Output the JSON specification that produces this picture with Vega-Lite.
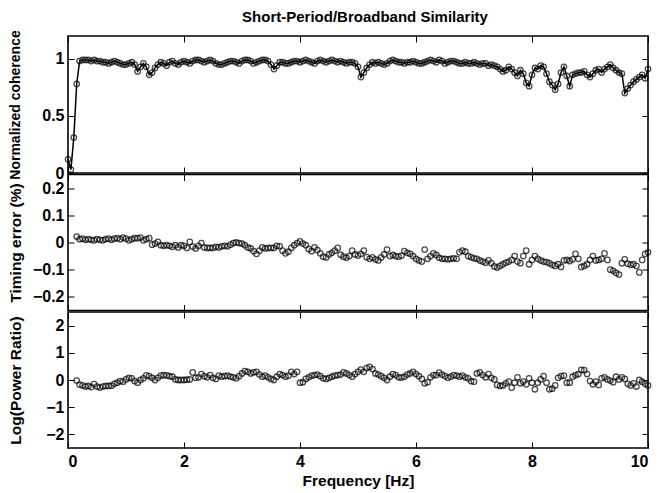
{
  "$schema": "https://vega.github.io/schema/vega-lite/v6.json",
  "padding": {"top": 10, "left": 7, "right": 5, "bottom": 2},
  "title": {"text": "Short-Period/Broadband Similarity", "font": "Liberation Sans", "fontSize": 15, "fontWeight": "bold", "color": "black", "offset": 4, "anchor": "middle", "frame": "group", "dx": 7},
  "config": {
    "font": "Liberation Sans",
    "view": {"stroke": "black", "strokeWidth": 1.6},
    "axis": {"labelFont": "Liberation Sans", "labelFontSize": 16, "labelFontWeight": "bold", "labelColor": "black", "titleFont": "Liberation Sans", "titleFontSize": 15.5, "titleFontWeight": "bold", "titleColor": "black", "domain": false, "grid": false, "tickColor": "black", "tickSize": -6, "tickWidth": 1, "labelPadding": 10}
  },
  "bounds": "flush",
  "spacing": 1.5,
  "datasets": {
    "coh": [
      {"f":0.00,"v":0.12},{"f":0.05,"v":0.03},{"f":0.10,"v":0.31},{"f":0.15,"v":0.78},{"f":0.20,"v":0.98},{"f":0.25,"v":0.99},{"f":0.30,"v":0.99},{"f":0.35,"v":0.99},{"f":0.40,"v":0.98},{"f":0.45,"v":0.99},
      {"f":0.50,"v":0.98},{"f":0.55,"v":0.98},{"f":0.60,"v":0.97},{"f":0.65,"v":0.97},{"f":0.70,"v":0.96},{"f":0.75,"v":0.97},{"f":0.80,"v":0.98},{"f":0.85,"v":0.97},{"f":0.90,"v":0.96},{"f":0.95,"v":0.95},
      {"f":1.00,"v":0.95},{"f":1.05,"v":0.96},{"f":1.10,"v":0.97},{"f":1.15,"v":0.95},{"f":1.20,"v":0.89},{"f":1.25,"v":0.93},{"f":1.30,"v":0.96},{"f":1.35,"v":0.93},{"f":1.40,"v":0.86},{"f":1.45,"v":0.88},
      {"f":1.50,"v":0.92},{"f":1.55,"v":0.95},{"f":1.60,"v":0.97},{"f":1.65,"v":0.96},{"f":1.70,"v":0.94},{"f":1.75,"v":0.97},{"f":1.80,"v":0.98},{"f":1.85,"v":0.96},{"f":1.90,"v":0.95},{"f":1.95,"v":0.97},
      {"f":2.00,"v":0.98},{"f":2.05,"v":0.97},{"f":2.10,"v":0.96},{"f":2.15,"v":0.98},{"f":2.20,"v":0.99},{"f":2.25,"v":0.99},{"f":2.30,"v":0.98},{"f":2.35,"v":0.97},{"f":2.40,"v":0.98},{"f":2.45,"v":0.99},
      {"f":2.50,"v":0.98},{"f":2.55,"v":0.96},{"f":2.60,"v":0.95},{"f":2.65,"v":0.95},{"f":2.70,"v":0.96},{"f":2.75,"v":0.97},{"f":2.80,"v":0.98},{"f":2.85,"v":0.98},{"f":2.90,"v":0.97},{"f":2.95,"v":0.96},
      {"f":3.00,"v":0.98},{"f":3.05,"v":0.99},{"f":3.10,"v":0.99},{"f":3.15,"v":0.98},{"f":3.20,"v":0.96},{"f":3.25,"v":0.97},{"f":3.30,"v":0.98},{"f":3.35,"v":0.99},{"f":3.40,"v":0.99},{"f":3.45,"v":0.98},
      {"f":3.50,"v":0.95},{"f":3.55,"v":0.91},{"f":3.60,"v":0.94},{"f":3.65,"v":0.97},{"f":3.70,"v":0.97},{"f":3.75,"v":0.96},{"f":3.80,"v":0.96},{"f":3.85,"v":0.97},{"f":3.90,"v":0.98},{"f":3.95,"v":0.98},
      {"f":4.00,"v":0.97},{"f":4.05,"v":0.98},{"f":4.10,"v":0.99},{"f":4.15,"v":0.98},{"f":4.20,"v":0.97},{"f":4.25,"v":0.96},{"f":4.30,"v":0.98},{"f":4.35,"v":0.99},{"f":4.40,"v":0.98},{"f":4.45,"v":0.97},
      {"f":4.50,"v":0.98},{"f":4.55,"v":0.99},{"f":4.60,"v":0.98},{"f":4.65,"v":0.97},{"f":4.70,"v":0.98},{"f":4.75,"v":0.97},{"f":4.80,"v":0.96},{"f":4.85,"v":0.97},{"f":4.90,"v":0.97},{"f":4.95,"v":0.96},
      {"f":5.00,"v":0.93},{"f":5.05,"v":0.84},{"f":5.10,"v":0.88},{"f":5.15,"v":0.92},{"f":5.20,"v":0.95},{"f":5.25,"v":0.97},{"f":5.30,"v":0.96},{"f":5.35,"v":0.97},{"f":5.40,"v":0.96},{"f":5.45,"v":0.95},
      {"f":5.50,"v":0.96},{"f":5.55,"v":0.98},{"f":5.60,"v":0.99},{"f":5.65,"v":0.98},{"f":5.70,"v":0.97},{"f":5.75,"v":0.97},{"f":5.80,"v":0.96},{"f":5.85,"v":0.97},{"f":5.90,"v":0.97},{"f":5.95,"v":0.98},
      {"f":6.00,"v":0.97},{"f":6.05,"v":0.96},{"f":6.10,"v":0.96},{"f":6.15,"v":0.97},{"f":6.20,"v":0.98},{"f":6.25,"v":0.99},{"f":6.30,"v":0.98},{"f":6.35,"v":0.97},{"f":6.40,"v":0.99},{"f":6.45,"v":0.98},
      {"f":6.50,"v":0.96},{"f":6.55,"v":0.97},{"f":6.60,"v":0.98},{"f":6.65,"v":0.98},{"f":6.70,"v":0.97},{"f":6.75,"v":0.96},{"f":6.80,"v":0.96},{"f":6.85,"v":0.97},{"f":6.90,"v":0.96},{"f":6.95,"v":0.96},
      {"f":7.00,"v":0.97},{"f":7.05,"v":0.96},{"f":7.10,"v":0.95},{"f":7.15,"v":0.96},{"f":7.20,"v":0.96},{"f":7.25,"v":0.94},{"f":7.30,"v":0.95},{"f":7.35,"v":0.94},{"f":7.40,"v":0.93},{"f":7.45,"v":0.91},
      {"f":7.50,"v":0.89},{"f":7.55,"v":0.90},{"f":7.60,"v":0.93},{"f":7.65,"v":0.91},{"f":7.70,"v":0.88},{"f":7.75,"v":0.85},{"f":7.80,"v":0.90},{"f":7.85,"v":0.87},{"f":7.90,"v":0.79},{"f":7.95,"v":0.76},
      {"f":8.00,"v":0.86},{"f":8.05,"v":0.92},{"f":8.10,"v":0.91},{"f":8.15,"v":0.94},{"f":8.20,"v":0.93},{"f":8.25,"v":0.87},{"f":8.30,"v":0.80},{"f":8.35,"v":0.77},{"f":8.40,"v":0.73},{"f":8.45,"v":0.78},
      {"f":8.50,"v":0.88},{"f":8.55,"v":0.93},{"f":8.60,"v":0.85},{"f":8.65,"v":0.76},{"f":8.70,"v":0.86},{"f":8.75,"v":0.87},{"f":8.80,"v":0.88},{"f":8.85,"v":0.88},{"f":8.90,"v":0.89},{"f":8.95,"v":0.86},
      {"f":9.00,"v":0.84},{"f":9.05,"v":0.87},{"f":9.10,"v":0.90},{"f":9.15,"v":0.91},{"f":9.20,"v":0.88},{"f":9.25,"v":0.91},{"f":9.30,"v":0.93},{"f":9.35,"v":0.95},{"f":9.40,"v":0.92},{"f":9.45,"v":0.90},
      {"f":9.50,"v":0.88},{"f":9.55,"v":0.87},{"f":9.60,"v":0.70},{"f":9.65,"v":0.74},{"f":9.70,"v":0.77},{"f":9.75,"v":0.80},{"f":9.80,"v":0.82},{"f":9.85,"v":0.84},{"f":9.90,"v":0.86},{"f":9.95,"v":0.83},
      {"f":10.00,"v":0.91}
    ],
    "timing": [
      {"f":0.15,"v":0.022},{"f":0.20,"v":0.012},{"f":0.25,"v":0.014},{"f":0.30,"v":0.010},{"f":0.35,"v":0.012},{"f":0.40,"v":0.010},{"f":0.45,"v":0.008},{"f":0.50,"v":0.012},{"f":0.55,"v":0.010},{"f":0.60,"v":0.008},
      {"f":0.65,"v":0.012},{"f":0.70,"v":0.014},{"f":0.75,"v":0.010},{"f":0.80,"v":0.014},{"f":0.85,"v":0.016},{"f":0.90,"v":0.012},{"f":0.95,"v":0.018},{"f":1.00,"v":0.014},{"f":1.05,"v":0.008},{"f":1.10,"v":0.012},
      {"f":1.15,"v":0.016},{"f":1.20,"v":0.016},{"f":1.25,"v":0.018},{"f":1.30,"v":0.008},{"f":1.35,"v":0.012},{"f":1.40,"v":0.016},{"f":1.45,"v":-0.008},{"f":1.50,"v":-0.004},{"f":1.55,"v":0.002},{"f":1.60,"v":-0.010},
      {"f":1.65,"v":-0.012},{"f":1.70,"v":-0.010},{"f":1.75,"v":-0.012},{"f":1.80,"v":-0.016},{"f":1.85,"v":-0.010},{"f":1.90,"v":-0.018},{"f":1.95,"v":-0.010},{"f":2.00,"v":-0.012},{"f":2.05,"v":-0.020},{"f":2.10,"v":0.002},
      {"f":2.15,"v":-0.015},{"f":2.20,"v":-0.022},{"f":2.25,"v":-0.012},{"f":2.30,"v":-0.002},{"f":2.35,"v":-0.018},{"f":2.40,"v":-0.020},{"f":2.45,"v":-0.020},{"f":2.50,"v":-0.020},{"f":2.55,"v":-0.016},{"f":2.60,"v":-0.018},
      {"f":2.65,"v":-0.014},{"f":2.70,"v":-0.012},{"f":2.75,"v":-0.014},{"f":2.80,"v":-0.008},{"f":2.85,"v":-0.002},{"f":2.90,"v":0.000},{"f":2.95,"v":-0.002},{"f":3.00,"v":-0.004},{"f":3.05,"v":-0.010},{"f":3.10,"v":-0.018},
      {"f":3.15,"v":-0.022},{"f":3.20,"v":-0.032},{"f":3.25,"v":-0.042},{"f":3.30,"v":-0.030},{"f":3.35,"v":-0.018},{"f":3.40,"v":-0.022},{"f":3.45,"v":-0.020},{"f":3.50,"v":-0.020},{"f":3.55,"v":-0.020},{"f":3.60,"v":-0.012},
      {"f":3.65,"v":-0.014},{"f":3.70,"v":-0.030},{"f":3.75,"v":-0.040},{"f":3.80,"v":-0.034},{"f":3.85,"v":-0.020},{"f":3.90,"v":-0.010},{"f":3.95,"v":-0.002},{"f":4.00,"v":0.004},{"f":4.05,"v":-0.004},{"f":4.10,"v":-0.010},
      {"f":4.15,"v":-0.024},{"f":4.20,"v":-0.032},{"f":4.25,"v":-0.018},{"f":4.30,"v":-0.028},{"f":4.35,"v":-0.040},{"f":4.40,"v":-0.052},{"f":4.45,"v":-0.055},{"f":4.50,"v":-0.044},{"f":4.55,"v":-0.038},{"f":4.60,"v":-0.030},
      {"f":4.65,"v":-0.020},{"f":4.70,"v":-0.045},{"f":4.75,"v":-0.052},{"f":4.80,"v":-0.056},{"f":4.85,"v":-0.050},{"f":4.90,"v":-0.030},{"f":4.95,"v":-0.044},{"f":5.00,"v":-0.048},{"f":5.05,"v":-0.042},{"f":5.10,"v":-0.030},
      {"f":5.15,"v":-0.054},{"f":5.20,"v":-0.060},{"f":5.25,"v":-0.055},{"f":5.30,"v":-0.062},{"f":5.35,"v":-0.066},{"f":5.40,"v":-0.055},{"f":5.45,"v":-0.044},{"f":5.50,"v":-0.026},{"f":5.55,"v":-0.050},{"f":5.60,"v":-0.046},
      {"f":5.65,"v":-0.050},{"f":5.70,"v":-0.052},{"f":5.75,"v":-0.048},{"f":5.80,"v":-0.032},{"f":5.85,"v":-0.038},{"f":5.90,"v":-0.042},{"f":5.95,"v":-0.050},{"f":6.00,"v":-0.060},{"f":6.05,"v":-0.066},{"f":6.10,"v":-0.070},
      {"f":6.15,"v":-0.026},{"f":6.20,"v":-0.060},{"f":6.25,"v":-0.050},{"f":6.30,"v":-0.040},{"f":6.35,"v":-0.046},{"f":6.40,"v":-0.056},{"f":6.45,"v":-0.060},{"f":6.50,"v":-0.060},{"f":6.55,"v":-0.062},{"f":6.60,"v":-0.060},
      {"f":6.65,"v":-0.058},{"f":6.70,"v":-0.060},{"f":6.75,"v":-0.036},{"f":6.80,"v":-0.030},{"f":6.85,"v":-0.034},{"f":6.90,"v":-0.050},{"f":6.95,"v":-0.054},{"f":7.00,"v":-0.058},{"f":7.05,"v":-0.060},{"f":7.10,"v":-0.066},
      {"f":7.15,"v":-0.070},{"f":7.20,"v":-0.074},{"f":7.25,"v":-0.066},{"f":7.30,"v":-0.076},{"f":7.35,"v":-0.088},{"f":7.40,"v":-0.092},{"f":7.45,"v":-0.086},{"f":7.50,"v":-0.080},{"f":7.55,"v":-0.074},{"f":7.60,"v":-0.070},
      {"f":7.65,"v":-0.064},{"f":7.70,"v":-0.050},{"f":7.75,"v":-0.070},{"f":7.80,"v":-0.076},{"f":7.85,"v":-0.050},{"f":7.90,"v":-0.030},{"f":7.95,"v":-0.080},{"f":8.00,"v":-0.064},{"f":8.05,"v":-0.050},{"f":8.10,"v":-0.060},
      {"f":8.15,"v":-0.066},{"f":8.20,"v":-0.070},{"f":8.25,"v":-0.072},{"f":8.30,"v":-0.076},{"f":8.35,"v":-0.082},{"f":8.40,"v":-0.086},{"f":8.45,"v":-0.080},{"f":8.50,"v":-0.090},{"f":8.55,"v":-0.066},{"f":8.60,"v":-0.064},
      {"f":8.65,"v":-0.068},{"f":8.70,"v":-0.062},{"f":8.75,"v":-0.042},{"f":8.80,"v":-0.060},{"f":8.85,"v":-0.090},{"f":8.90,"v":-0.086},{"f":8.95,"v":-0.080},{"f":9.00,"v":-0.064},{"f":9.05,"v":-0.050},{"f":9.10,"v":-0.066},
      {"f":9.15,"v":-0.064},{"f":9.20,"v":-0.060},{"f":9.25,"v":-0.040},{"f":9.30,"v":-0.064},{"f":9.35,"v":-0.100},{"f":9.40,"v":-0.104},{"f":9.45,"v":-0.112},{"f":9.50,"v":-0.118},{"f":9.55,"v":-0.076},{"f":9.60,"v":-0.062},
      {"f":9.65,"v":-0.078},{"f":9.70,"v":-0.082},{"f":9.75,"v":-0.080},{"f":9.80,"v":-0.086},{"f":9.85,"v":-0.110},{"f":9.90,"v":-0.064},{"f":9.95,"v":-0.042},{"f":10.00,"v":-0.036}
    ],
    "power": [
      {"f":0.15,"v":-0.02},{"f":0.20,"v":-0.17},{"f":0.25,"v":-0.20},{"f":0.30,"v":-0.24},{"f":0.35,"v":-0.22},{"f":0.40,"v":-0.26},{"f":0.45,"v":-0.15},{"f":0.50,"v":-0.24},{"f":0.55,"v":-0.28},{"f":0.60,"v":-0.24},
      {"f":0.65,"v":-0.22},{"f":0.70,"v":-0.22},{"f":0.75,"v":-0.21},{"f":0.80,"v":-0.14},{"f":0.85,"v":-0.10},{"f":0.90,"v":-0.04},{"f":0.95,"v":-0.06},{"f":1.00,"v":0.02},{"f":1.05,"v":0.08},{"f":1.10,"v":0.06},
      {"f":1.15,"v":-0.04},{"f":1.20,"v":-0.10},{"f":1.25,"v":0.00},{"f":1.30,"v":0.06},{"f":1.35,"v":0.17},{"f":1.40,"v":0.14},{"f":1.45,"v":0.08},{"f":1.50,"v":0.00},{"f":1.55,"v":0.08},{"f":1.60,"v":0.16},
      {"f":1.65,"v":0.18},{"f":1.70,"v":0.17},{"f":1.75,"v":0.14},{"f":1.80,"v":0.12},{"f":1.85,"v":0.02},{"f":1.90,"v":0.00},{"f":1.95,"v":0.00},{"f":2.00,"v":0.00},{"f":2.05,"v":0.01},{"f":2.10,"v":0.02},
      {"f":2.15,"v":0.28},{"f":2.20,"v":0.08},{"f":2.25,"v":0.10},{"f":2.30,"v":0.22},{"f":2.35,"v":0.14},{"f":2.40,"v":0.10},{"f":2.45,"v":0.18},{"f":2.50,"v":0.08},{"f":2.55,"v":0.04},{"f":2.60,"v":0.16},
      {"f":2.65,"v":0.12},{"f":2.70,"v":0.14},{"f":2.75,"v":0.16},{"f":2.80,"v":0.12},{"f":2.85,"v":0.10},{"f":2.90,"v":0.06},{"f":2.95,"v":0.14},{"f":3.00,"v":0.24},{"f":3.05,"v":0.33},{"f":3.10,"v":0.30},
      {"f":3.15,"v":0.24},{"f":3.20,"v":0.28},{"f":3.25,"v":0.30},{"f":3.30,"v":0.20},{"f":3.35,"v":0.12},{"f":3.40,"v":0.16},{"f":3.45,"v":0.10},{"f":3.50,"v":0.04},{"f":3.55,"v":0.00},{"f":3.60,"v":0.12},
      {"f":3.65,"v":0.22},{"f":3.70,"v":0.18},{"f":3.75,"v":0.12},{"f":3.80,"v":0.16},{"f":3.85,"v":0.30},{"f":3.90,"v":0.22},{"f":3.95,"v":0.30},{"f":4.00,"v":-0.10},{"f":4.05,"v":-0.08},{"f":4.10,"v":0.04},
      {"f":4.15,"v":0.10},{"f":4.20,"v":0.16},{"f":4.25,"v":0.18},{"f":4.30,"v":0.20},{"f":4.35,"v":0.14},{"f":4.40,"v":0.06},{"f":4.45,"v":0.04},{"f":4.50,"v":0.08},{"f":4.55,"v":0.12},{"f":4.60,"v":0.16},
      {"f":4.65,"v":0.18},{"f":4.70,"v":0.20},{"f":4.75,"v":0.28},{"f":4.80,"v":0.24},{"f":4.85,"v":0.18},{"f":4.90,"v":0.12},{"f":4.95,"v":0.22},{"f":5.00,"v":0.30},{"f":5.05,"v":0.38},{"f":5.10,"v":0.30},
      {"f":5.15,"v":0.44},{"f":5.20,"v":0.48},{"f":5.25,"v":0.40},{"f":5.30,"v":0.24},{"f":5.35,"v":0.20},{"f":5.40,"v":0.14},{"f":5.45,"v":0.08},{"f":5.50,"v":0.00},{"f":5.55,"v":0.12},{"f":5.60,"v":0.22},
      {"f":5.65,"v":0.18},{"f":5.70,"v":0.10},{"f":5.75,"v":0.09},{"f":5.80,"v":0.12},{"f":5.85,"v":0.20},{"f":5.90,"v":0.24},{"f":5.95,"v":0.30},{"f":6.00,"v":0.22},{"f":6.05,"v":0.14},{"f":6.10,"v":0.04},
      {"f":6.15,"v":-0.12},{"f":6.20,"v":-0.08},{"f":6.25,"v":0.10},{"f":6.30,"v":0.18},{"f":6.35,"v":0.18},{"f":6.40,"v":0.27},{"f":6.45,"v":0.20},{"f":6.50,"v":0.14},{"f":6.55,"v":0.08},{"f":6.60,"v":0.12},
      {"f":6.65,"v":0.18},{"f":6.70,"v":0.16},{"f":6.75,"v":0.12},{"f":6.80,"v":0.16},{"f":6.85,"v":0.10},{"f":6.90,"v":0.06},{"f":6.95,"v":-0.04},{"f":7.00,"v":-0.06},{"f":7.05,"v":0.24},{"f":7.10,"v":0.28},
      {"f":7.15,"v":0.18},{"f":7.20,"v":0.10},{"f":7.25,"v":0.22},{"f":7.30,"v":0.08},{"f":7.35,"v":0.02},{"f":7.40,"v":-0.18},{"f":7.45,"v":-0.22},{"f":7.50,"v":-0.20},{"f":7.55,"v":-0.12},{"f":7.60,"v":-0.06},
      {"f":7.65,"v":-0.28},{"f":7.70,"v":-0.10},{"f":7.75,"v":0.10},{"f":7.80,"v":-0.12},{"f":7.85,"v":-0.06},{"f":7.90,"v":-0.16},{"f":7.95,"v":0.06},{"f":8.00,"v":-0.10},{"f":8.05,"v":-0.34},{"f":8.10,"v":-0.10},
      {"f":8.15,"v":0.02},{"f":8.20,"v":0.14},{"f":8.25,"v":-0.10},{"f":8.30,"v":-0.34},{"f":8.35,"v":-0.32},{"f":8.40,"v":-0.20},{"f":8.45,"v":0.08},{"f":8.50,"v":0.14},{"f":8.55,"v":0.16},{"f":8.60,"v":-0.10},
      {"f":8.65,"v":-0.10},{"f":8.70,"v":0.12},{"f":8.75,"v":0.18},{"f":8.80,"v":0.22},{"f":8.85,"v":0.37},{"f":8.90,"v":0.36},{"f":8.95,"v":0.22},{"f":9.00,"v":-0.04},{"f":9.05,"v":-0.16},{"f":9.10,"v":-0.06},
      {"f":9.15,"v":-0.18},{"f":9.20,"v":0.06},{"f":9.25,"v":0.10},{"f":9.30,"v":0.02},{"f":9.35,"v":-0.02},{"f":9.40,"v":-0.08},{"f":9.45,"v":0.12},{"f":9.50,"v":0.02},{"f":9.55,"v":0.10},{"f":9.60,"v":0.04},
      {"f":9.65,"v":-0.14},{"f":9.70,"v":-0.20},{"f":9.75,"v":-0.12},{"f":9.80,"v":-0.24},{"f":9.85,"v":0.00},{"f":9.90,"v":-0.06},{"f":9.95,"v":-0.14},{"f":10.00,"v":-0.20}
    ]
  },
  "vconcat": [
    {
      "width": 580, "height": 137,
      "data": {"name": "coh"},
      "layer": [
        {"mark": {"type": "line", "color": "black", "strokeWidth": 1.5},
         "encoding": {
           "x": {"field": "f", "type": "quantitative", "scale": {"domain": [0, 10]}, "axis": {"orient": "bottom", "values": [0,2,4,6,8,10], "labels": false, "title": null, "minExtent": 0, "maxExtent": 0}},
           "y": {"field": "v", "type": "quantitative", "scale": {"domain": [0, 1.2]}, "axis": {"orient": "left", "values": [0, 0.5, 1], "format": "~g", "title": "Normalized coherence", "titleFontSize": 14, "minExtent": 41, "maxExtent": 41, "titlePadding": 5}}}},
        {"mark": {"type": "point", "shape": "circle", "filled": false, "color": "black", "size": 30, "strokeWidth": 1.3},
         "encoding": {"x": {"field": "f", "type": "quantitative", "axis": null}, "y": {"field": "v", "type": "quantitative", "axis": null}}},
        {"mark": {"type": "point", "opacity": 0},
         "encoding": {
           "x": {"field": "f", "type": "quantitative", "axis": {"orient": "top", "values": [0,2,4,6,8,10], "labels": false, "title": null, "minExtent": 0, "maxExtent": 0}},
           "y": {"field": "v", "type": "quantitative", "axis": {"orient": "right", "values": [0, 0.5, 1], "labels": false, "title": null, "minExtent": 0, "maxExtent": 0}}}}
      ],
      "resolve": {"axis": {"x": "independent", "y": "independent"}}
    },
    {
      "width": 580, "height": 136,
      "data": {"name": "timing"},
      "layer": [
        {"mark": {"type": "point", "shape": "circle", "filled": false, "color": "black", "size": 30, "strokeWidth": 1.3},
         "encoding": {
           "x": {"field": "f", "type": "quantitative", "scale": {"domain": [0, 10]}, "axis": {"orient": "bottom", "values": [0,2,4,6,8,10], "labels": false, "title": null, "minExtent": 0, "maxExtent": 0}},
           "y": {"field": "v", "type": "quantitative", "scale": {"domain": [-0.25, 0.25]}, "axis": {"orient": "left", "values": [-0.2,-0.1,0,0.1,0.2], "format": "~g", "title": "Timing error (%)", "minExtent": 41, "maxExtent": 41, "titlePadding": 4}}}},
        {"mark": {"type": "point", "opacity": 0},
         "encoding": {
           "x": {"field": "f", "type": "quantitative", "axis": {"orient": "top", "values": [0,2,4,6,8,10], "labels": false, "title": null, "minExtent": 0, "maxExtent": 0}},
           "y": {"field": "v", "type": "quantitative", "axis": {"orient": "right", "values": [-0.2,-0.1,0,0.1,0.2], "labels": false, "title": null, "minExtent": 0, "maxExtent": 0}}}}
      ],
      "resolve": {"axis": {"x": "independent", "y": "independent"}}
    },
    {
      "width": 580, "height": 136,
      "data": {"name": "power"},
      "layer": [
        {"mark": {"type": "point", "shape": "circle", "filled": false, "color": "black", "size": 30, "strokeWidth": 1.3},
         "encoding": {
           "x": {"field": "f", "type": "quantitative", "scale": {"domain": [0, 10]}, "axis": {"orient": "bottom", "values": [0,2,4,6,8,10], "format": "d", "title": "Frequency [Hz]", "labelPadding": 11, "titlePadding": 4}},
           "y": {"field": "v", "type": "quantitative", "scale": {"domain": [-2.07, 2.02]}, "axis": {"orient": "left", "values": [-2,-1,0,1,2], "format": "~g", "title": "Log(Power Ratio)", "minExtent": 41, "maxExtent": 41, "titlePadding": 4}}}},
        {"mark": {"type": "point", "opacity": 0},
         "encoding": {
           "x": {"field": "f", "type": "quantitative", "axis": {"orient": "top", "values": [0,2,4,6,8,10], "labels": false, "title": null, "minExtent": 0, "maxExtent": 0}},
           "y": {"field": "v", "type": "quantitative", "axis": {"orient": "right", "values": [-2,-1,0,1,2], "labels": false, "title": null, "minExtent": 0, "maxExtent": 0}}}}
      ],
      "resolve": {"axis": {"x": "independent", "y": "independent"}}
    }
  ]
}
